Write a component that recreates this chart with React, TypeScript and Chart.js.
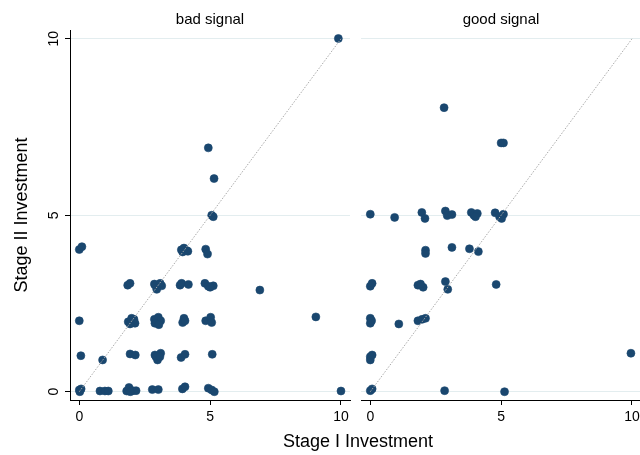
import React, { useEffect, useRef } from 'react';
import Chart from 'chart.js/auto';

// Tick labels
const xTicks = [0, 5, 10];
const yTicks = [0, 5, 10];

// 45-degree reference line
const diagX = [0, 10];
const diagY = [0, 10];

// Panel titles
const panelTitles = ['bad signal', 'good signal'];
const xTitle = 'Stage I Investment';
const yTitle = 'Stage II Investment';

const badX = [
  0.0, 0.1, 3.9, 4.0, 4.1, 3.95, 4.15, 4.83, 4.9,
  5.06, 5.12, 9.9, 4.93, 5.15,
  1.85, 1.94, 2.87, 2.99, 3.15, 2.96, 2.9, 3.09, 3.85, 3.91, 4.17, 4.8, 4.93, 5.12, 5.0, 6.9,
  0.0, 1.87, 2.0, 2.13, 2.09, 1.94, 2.87, 3.02, 3.11, 2.89, 3.04, 3.95, 4.0, 4.04, 4.83, 5.02, 5.06, 9.04,
  0.06, 0.89, 1.94, 2.14, 2.89, 3.11, 2.99, 2.93, 3.08, 3.89, 4.04, 5.08,
  0.0, 0.07, 0.02, 0.79, 0.98, 1.11, 1.81, 1.9, 2.04, 2.17, 1.95, 2.79, 3.02, 3.94, 4.04, 4.93, 5.06, 5.16, 10.0,
];
const badY = [
  4.03, 4.11, 4.02, 4.07, 4.0, 3.96, 3.98, 4.04, 3.9,
  5.0, 4.96, 10.01, 6.91, 6.04,
  3.02, 3.07, 3.05, 2.99, 3.0, 2.9, 3.02, 3.07, 3.02, 3.07, 3.04, 3.07, 2.99, 3.0, 2.96, 2.88,
  2.01, 1.98, 2.08, 1.94, 2.05, 1.92, 2.05, 2.11, 2.01, 1.94, 1.9, 1.96, 2.08, 2.01, 2.01, 2.11, 1.96, 2.12,
  1.02, 0.9, 1.07, 1.04, 1.04, 1.09, 0.9, 0.99, 0.99, 0.97, 1.06, 1.06,
  0.05, 0.08, 0.0, 0.02, 0.02, 0.02, 0.02, 0.12, 0.03, 0.03, 0.0, 0.06, 0.06, 0.08, 0.14, 0.1, 0.05, 0.0, 0.02,
];

// "good signal" panel
const goodX = [
  0.0, 0.93, 1.97, 2.09, 2.87, 2.94, 3.12, 3.86, 3.96, 4.09, 4.02, 4.77, 4.94, 5.09, 5.02,
  2.82, 5.0, 5.09,
  2.11, 2.11, 3.12, 3.79, 4.13,
  0.0, 0.07, 1.82, 2.02, 1.92, 2.87, 2.96, 4.81,
  0.0, 0.0, 0.05, 1.09, 1.82, 1.98, 2.11,
  0.0, 0.0, 0.07, 9.96,
  0.0, 0.07, 2.84, 5.13,
];
const goodY = [
  5.03, 4.94, 5.08, 4.91, 5.12, 4.99, 5.02, 5.08, 5.0, 5.05, 4.96, 5.07, 4.96, 5.03, 4.91,
  8.05, 7.05, 7.05,
  4.01, 3.92, 4.09, 4.05, 3.97,
  2.99, 3.07, 3.02, 2.96, 3.05, 3.12, 2.9, 3.04,
  2.08, 1.94, 2.01, 1.92, 2.01, 2.05, 2.08,
  0.99, 0.9, 1.04, 1.09,
  0.03, 0.08, 0.03, 0.0,
];

const FONT = "'Liberation Sans', Arial, Helvetica, sans-serif";
const NAVY = '#1a476f';
const GRID = '#e3edef';
const INK = '#000000';

const X_MIN = -0.355;
const X_MAX = 10.345;
const Y_MIN = -0.235;
const Y_MAX = 10.25;

function pts(xs: number[], ys: number[]) {
  return xs.map((x, i) => ({ x, y: ys[i] }));
}

function Panel(props: { left: number; width: number; padRight: number; title: string; xs: number[]; ys: number[]; first: boolean }) {
  const ref = useRef<HTMLCanvasElement | null>(null);
  const { left, width, padRight, title, xs, ys, first } = props;
  useEffect(() => {
    if (!ref.current) return;
    const chart = new Chart(ref.current, {
      type: 'scatter',
      data: {
        datasets: [
          {
            type: 'line',
            data: pts(diagX, diagY),
            borderColor: '#a9a9a9',
            borderWidth: 1,
            borderDash: [1.5, 1.5],
            pointRadius: 0,
            fill: false,
            showLine: true,
          } as any,
          {
            data: pts(xs, ys),
            backgroundColor: NAVY,
            borderColor: NAVY,
            borderWidth: 0.6,
            pointRadius: 4,
          },
        ],
      },
      options: {
        animation: false,
        responsive: false,
        events: [],
        layout: { padding: { left: 0, right: padRight, top: 0, bottom: 0 } },
        plugins: {
          legend: { display: false },
          tooltip: { enabled: false },
          title: {
            display: true,
            text: title,
            fullSize: false,
            color: INK,
            font: { family: FONT, size: 15, weight: 'normal', lineHeight: 1.2 },
            padding: { top: 11, bottom: 1 },
          },
        },
        scales: {
          x: {
            type: 'linear',
            min: X_MIN,
            max: X_MAX,
            afterBuildTicks: (s: any) => {
              s.ticks = xTicks.map((v) => ({ value: v }));
            },
            afterFit: (s: any) => {
              s.height = 55;
            },
            ticks: {
              color: INK,
              font: { family: FONT, size: 14 },
              padding: 4,
              maxRotation: 0,
              minRotation: 0,
              autoSkip: false,
            },
            grid: {
              display: true,
              drawOnChartArea: false,
              drawTicks: true,
              tickLength: 5,
              tickColor: INK,
            },
            border: { display: true, color: INK, width: 1 },
          },
          y: {
            type: 'linear',
            min: Y_MIN,
            max: Y_MAX,
            afterBuildTicks: (s: any) => {
              s.ticks = yTicks.map((v) => ({ value: v }));
            },
            afterFit: (s: any) => {
              s.width = first ? 70 : 9;
            },
            ticks: {
              display: first,
              color: INK,
              font: { family: FONT, size: 14 },
              padding: 3,
              minRotation: 90,
              maxRotation: 90,
              crossAlign: 'center',
              autoSkip: false,
            },
            grid: {
              display: true,
              color: GRID,
              lineWidth: 1,
              drawOnChartArea: true,
              drawTicks: first,
              tickLength: 5,
              tickColor: INK,
            },
            border: { display: first, color: INK, width: 1 },
            title: {
              display: first,
              text: yTitle,
              color: INK,
              font: { family: FONT, size: 18, lineHeight: 1.2 },
              padding: { top: 11, bottom: 0 },
            },
          },
        },
      } as any,
    });
    return () => chart.destroy();
  }, [left, width, padRight, title, xs, ys, first]);
  return (
    <canvas
      ref={ref}
      width={width}
      height={455}
      style={{ position: 'absolute', left, top: 0, width, height: 455 }}
    />
  );
}

export default function App() {
  return (
    <div
      style={{
        position: 'fixed',
        left: 0,
        top: 0,
        width: 640,
        height: 455,
        overflow: 'hidden',
        background: '#ffffff',
      }}
    >
      <Panel left={0} width={360} padRight={10} title={panelTitles[0]} xs={badX} ys={badY} first={true} />
      <Panel left={352} width={300} padRight={11} title={panelTitles[1]} xs={goodX} ys={goodY} first={false} />
      <div
        style={{
          position: 'absolute',
          left: 358,
          top: 432,
          transform: 'translateX(-50%)',
          whiteSpace: 'nowrap',
          fontFamily: FONT,
          fontSize: 18,
          lineHeight: '18px',
          color: INK,
        }}
      >
        {xTitle}
      </div>
    </div>
  );
}
